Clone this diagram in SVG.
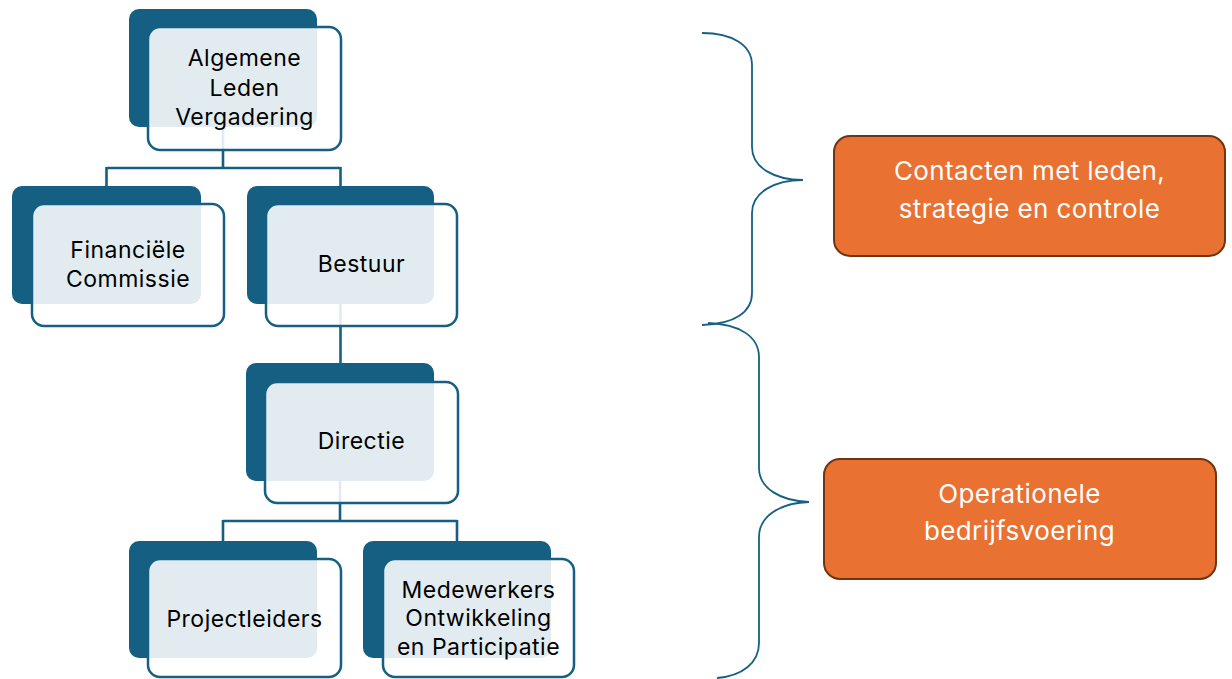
<svg xmlns="http://www.w3.org/2000/svg" width="1232" height="679" viewBox="0 0 1232 679">
<style>
.dark{fill:#156082}
.light{fill:#ffffff;fill-opacity:0.88;stroke:#156082;stroke-width:2.5}
.conn{fill:none;stroke:#156082;stroke-width:2.6}
.brace{fill:none;stroke:#156082;stroke-width:1.8}
.lbl{font-family:Inter,"Liberation Sans",sans-serif;font-size:23px;fill:#000;text-anchor:middle;letter-spacing:0.5px}
.obox{fill:#E97132;stroke:#6f3410;stroke-width:2}
.olbl{font-family:Inter,"Liberation Sans",sans-serif;font-size:26px;fill:#fff;text-anchor:middle;letter-spacing:0.4px}
</style>
<rect width="1232" height="679" fill="#fff"/>
<g id="connectors">
<path class="conn" d="M223,127 V168 M106.5,168 H340.5 M106.5,167 V186 M340.5,167 V186"/>
<path class="conn" d="M340.5,304 V363"/>
<path class="conn" d="M340,481 V521 M223,521 H457 M223,520 V541 M457,520 V541"/>
</g>
<g id="node-alv">
<rect class="dark" x="129" y="9" width="188" height="118" rx="10"/>
<rect class="light" x="148" y="27" width="193" height="123" rx="12"/>
<text class="lbl" x="244.5" y="66">Algemene</text>
<text class="lbl" x="244.5" y="95.5">Leden</text>
<text class="lbl" x="244.5" y="125">Vergadering</text>
</g>
<g id="node-fc">
<rect class="dark" x="12" y="186" width="189" height="118" rx="10"/>
<rect class="light" x="32" y="204" width="192" height="122" rx="12"/>
<text class="lbl" x="128" y="258">Financiële</text>
<text class="lbl" x="128" y="287">Commissie</text>
</g>
<g id="node-bestuur">
<rect class="dark" x="247" y="186" width="187" height="118" rx="10"/>
<rect class="light" x="266" y="204" width="191" height="122" rx="12"/>
<text class="lbl" x="361.5" y="272">Bestuur</text>
</g>
<g id="node-directie">
<rect class="dark" x="246" y="363" width="188" height="118" rx="10"/>
<rect class="light" x="265" y="382" width="193" height="121" rx="12"/>
<text class="lbl" x="361.5" y="449">Directie</text>
</g>
<g id="node-projectleiders">
<rect class="dark" x="129" y="541" width="188" height="117" rx="10"/>
<rect class="light" x="148" y="559" width="193" height="118" rx="12"/>
<text class="lbl" x="244.5" y="627">Projectleiders</text>
</g>
<g id="node-medewerkers">
<rect class="dark" x="363" y="541" width="188" height="117" rx="10"/>
<rect class="light" x="383" y="559" width="191" height="118" rx="12"/>
<text class="lbl" x="478.5" y="598">Medewerkers</text>
<text class="lbl" x="478.5" y="626">Ontwikkeling</text>
<text class="lbl" x="478.5" y="655">en Participatie</text>
</g>
<g id="braces">
<path class="brace" d="M702,33 C732,33 752,45 752,65 V147 C752,168 775,180 803,180 C775,180 752,192 752,213 V293 C752,312 735,324 702,325"/>
<path class="brace" d="M708,323 C740,324 759,337 759,357 V468 C759,488 780,501 809,502 C780,503 759,516 759,537 V643 C759,663 742,676 717,678"/>
</g>
<g id="node-contacten">
<rect class="obox" x="834" y="136" width="391" height="120" rx="16"/>
<text class="olbl" x="1029.5" y="180">Contacten met leden,</text>
<text class="olbl" x="1029.5" y="218">strategie en controle</text>
</g>
<g id="node-operationeel">
<rect class="obox" x="824" y="459" width="392" height="120" rx="16"/>
<text class="olbl" x="1019.5" y="503">Operationele</text>
<text class="olbl" x="1019.5" y="540">bedrijfsvoering</text>
</g>
</svg>
